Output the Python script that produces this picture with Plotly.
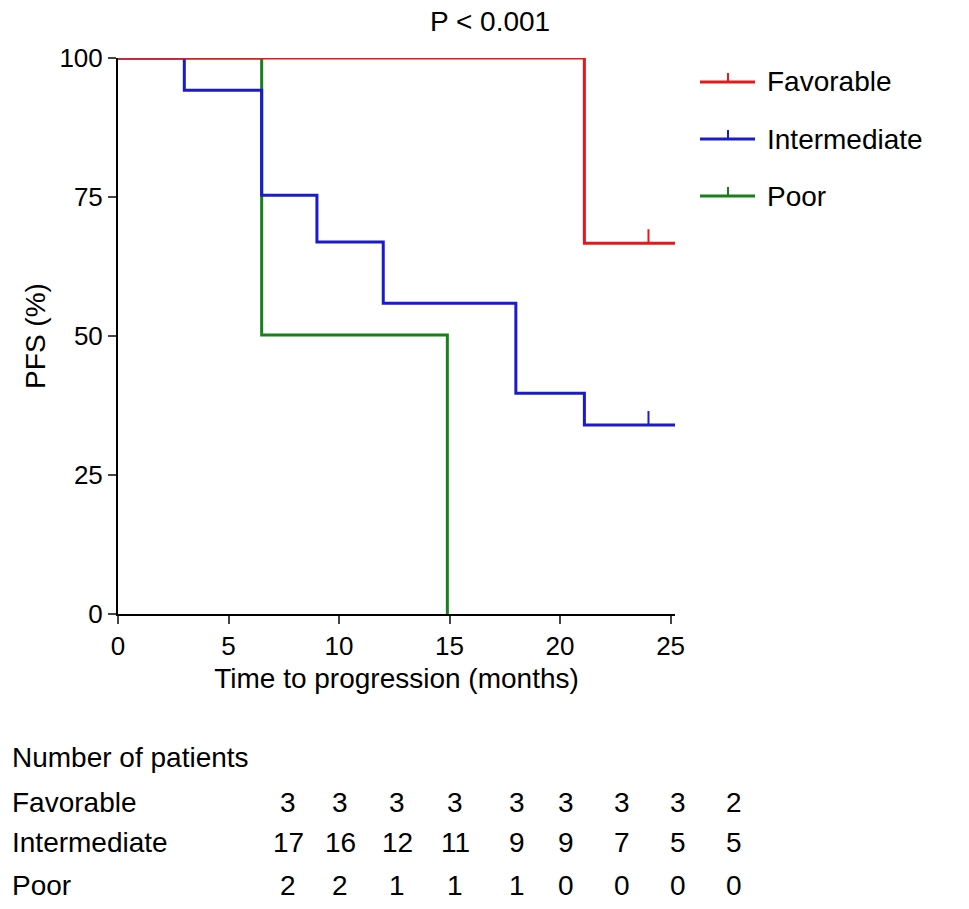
import plotly.graph_objects as go

# step curves (time in months, PFS %)
fav_t = [0, 21.1, 25.3]
fav_s = [100, 66.7, 66.7]
fav_cens = [24]

int_t = [0, 3.0, 6.5, 9.0, 12.0, 18.0, 21.1, 25.3]
int_s = [100, 94.2, 75.3, 66.9, 55.9, 39.7, 34.0, 34.0]
int_cens = [24]

poor_t = [0, 6.5, 14.9]
poor_s = [100, 50.2, 0]

groups = ["Favorable", "Intermediate", "Poor"]
colors = ["#e8171c", "#1a1ad0", "#17801a"]

at_risk = {
    "Favorable": ["3", "3", "3", "3", "3", "3", "3", "3", "2"],
    "Intermediate": ["17", "16", "12", "11", "9", "9", "7", "5", "5"],
    "Poor": ["2", "2", "1", "1", "1", "0", "0", "0", "0"],
}
col_px = [288, 340, 397, 455, 517, 566, 622, 678, 734]
row_px = [803, 843, 885]

FONT = "Liberation Sans, Arial, sans-serif"
OFF = 8  # page body margin
L, R, T, B = 118, 675, 58, 614
W, H = 969, 909


def px(x):
    return (x - L) / (R - L)


def py(y):
    return (B - y) / (B - T)


fig = go.Figure()
shapes = []
for t, s, c, cens in [(poor_t, poor_s, colors[2], []),
                      (int_t, int_s, colors[1], int_cens),
                      (fav_t, fav_s, colors[0], fav_cens)]:
    fig.add_trace(go.Scatter(x=t, y=s, mode="lines", line=dict(color=c, width=3, shape="hv"),
                             showlegend=False, cliponaxis=False))
    for ct in cens:
        sv = [v for tt, v in zip(t, s) if tt <= ct][-1]
        shapes.append(dict(type="line", xref="x", yref="y", x0=ct, x1=ct, y0=sv, y1=sv + 2.5,
                           line=dict(color=c, width=2)))

# manual legend
for i, (g, c) in enumerate(zip(groups, colors)):
    yy = 82 + i * 57
    shapes.append(dict(type="line", xref="paper", yref="paper", x0=px(700), x1=px(755),
                       y0=py(yy), y1=py(yy), line=dict(color=c, width=3)))
    shapes.append(dict(type="line", xref="paper", yref="paper", x0=px(728), x1=px(728),
                       y0=py(yy), y1=py(yy - 9), line=dict(color=c, width=2)))
    fig.add_annotation(x=px(765), y=py(yy), xref="paper", yref="paper", text=g, showarrow=False,
                       xanchor="left", yanchor="middle", font=dict(size=28, color="black"))

anns = [dict(x=px(490), y=py(22), text="P < 0.001", font_size=28),
        dict(x=px(10), y=py(757), text="Number of patients", xanchor="left", font_size=28)]
for g, ry in zip(groups, row_px):
    anns.append(dict(x=px(10), y=py(ry), text=g, xanchor="left", font_size=28))
    for v, cx in zip(at_risk[g], col_px):
        anns.append(dict(x=px(cx), y=py(ry), text=v, font_size=28))
for a in anns:
    fig.add_annotation(xref="paper", yref="paper", showarrow=False, yanchor="middle",
                       font=dict(size=a.pop("font_size"), color="black"),
                       **{"xanchor": "center", **a})

fig.update_layout(
    width=W, height=H, margin=dict(l=L - OFF, r=W - R + OFF, t=T - OFF, b=H - B + OFF),
    plot_bgcolor="white", paper_bgcolor="white",
    font=dict(family=FONT, color="black", size=26),
    shapes=shapes,
    xaxis=dict(range=[0, 25.2], tickvals=[0, 5, 10, 15, 20, 25], showline=True, linecolor="black",
               linewidth=2, ticks="outside", ticklen=8, tickwidth=2, showgrid=False, zeroline=False,
               title=dict(text="Time to progression (months)", font=dict(size=28), standoff=8),
               tickfont=dict(size=26)),
    yaxis=dict(range=[0, 100], tickvals=[0, 25, 50, 75, 100], showline=True, linecolor="black",
               linewidth=2, ticks="outside", ticklen=8, tickwidth=2, showgrid=False, zeroline=False,
               title=dict(text="PFS (%)", font=dict(size=28), standoff=6),
               tickfont=dict(size=26)),
)

fig.write_html("out.html")
